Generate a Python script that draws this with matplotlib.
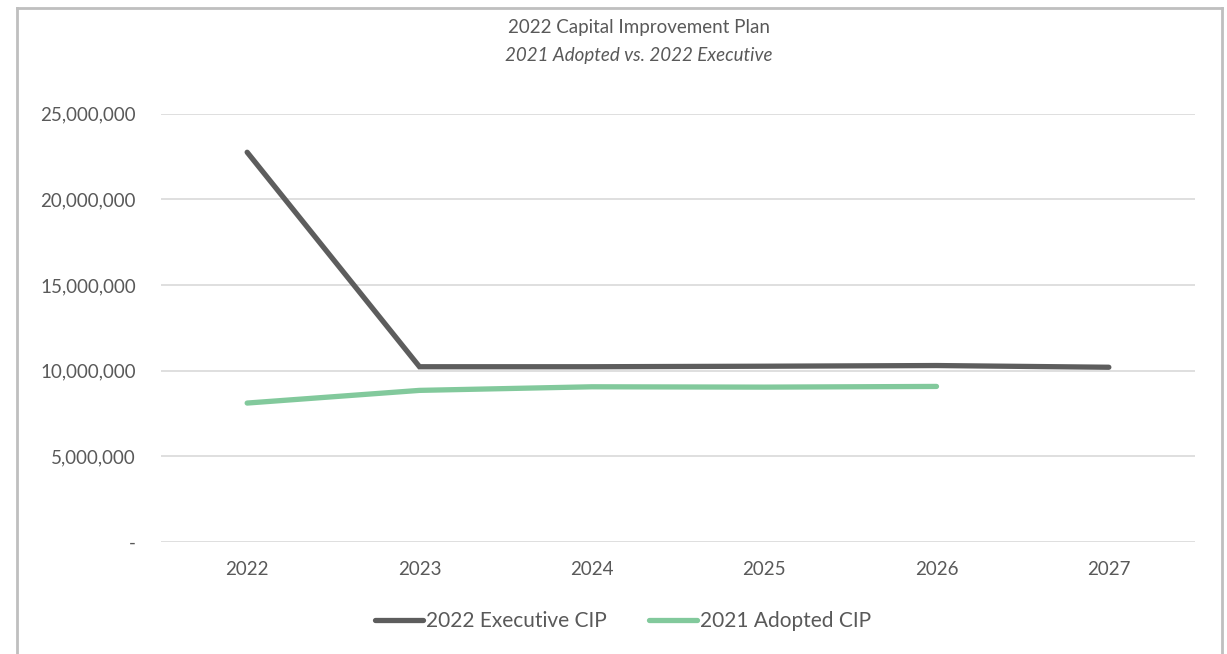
import matplotlib
matplotlib.use("Agg")
import matplotlib.pyplot as plt
from matplotlib.ticker import FuncFormatter

years = ["2022", "2023", "2024", "2025", "2026", "2027"]
executive = [22750000, 10230000, 10230000, 10260000, 10300000, 10200000]
adopted_years = ["2022", "2023", "2024", "2025", "2026"]
adopted = [8110000, 8850000, 9060000, 9040000, 9080000]

plt.rcParams['font.family'] = ['Lato', 'DejaVu Sans']
txt = '#595959'

fig = plt.figure(figsize=(12.27, 6.54), dpi=100)
ax = fig.add_axes([161/1227, 1-542/654, (1195-161)/1227, (542-113.7)/654])

x_exec = list(range(len(years)))
x_adop = list(range(len(adopted_years)))
ax.plot(x_exec, executive, color='#5d5d5d', lw=3.8, solid_capstyle='round',
        solid_joinstyle='miter', label='2022 Executive CIP', zorder=3)
ax.plot(x_adop, adopted, color='#82c99c', lw=3.8, solid_capstyle='round',
        solid_joinstyle='round', label='2021 Adopted CIP', zorder=3)

ax.set_xlim(-0.5, len(years) - 0.5)
ax.set_ylim(0, 25000000)
ax.set_xticks(x_exec)
ax.set_xticklabels(years)
ax.set_yticks([0, 5000000, 10000000, 15000000, 20000000, 25000000])
ax.yaxis.set_major_formatter(FuncFormatter(lambda v, p: '-' if v == 0 else f'{int(v):,}'))
ax.tick_params(axis='both', length=0, colors=txt, labelsize=13.5)
ax.tick_params(axis='y', pad=18)
ax.tick_params(axis='x', pad=14)
ax.grid(axis='y', color='#d9d9d9', lw=1.2)
ax.set_axisbelow(True)
for s in ax.spines.values():
    s.set_visible(False)

fig.text(639/1227, 1-28/654, '2022 Capital Improvement Plan', ha='center', va='center',
         color=txt, fontsize=13.5)
fig.text(639/1227, 1-55/654, '2021 Adopted vs. 2022 Executive', ha='center', va='center',
         color=txt, fontsize=13.5, style='italic')

leg = fig.legend(loc='center', bbox_to_anchor=(623/1227, 1-621/654), ncol=2, frameon=False,
                 fontsize=15, handlelength=2.3, handletextpad=0.15, columnspacing=2.0)
for t in leg.get_texts():
    t.set_color(txt)

# outer border (open at bottom)
fig.add_artist(plt.Line2D([17/1227, 17/1227], [0, 1-8/654], color='#bfbfbf', lw=2, transform=fig.transFigure))
fig.add_artist(plt.Line2D([17/1227, 1222/1227], [1-8/654, 1-8/654], color='#bfbfbf', lw=2, transform=fig.transFigure))
fig.add_artist(plt.Line2D([1222/1227, 1222/1227], [0, 1-8/654], color='#bfbfbf', lw=2, transform=fig.transFigure))

fig.savefig('out.png', dpi=100)
